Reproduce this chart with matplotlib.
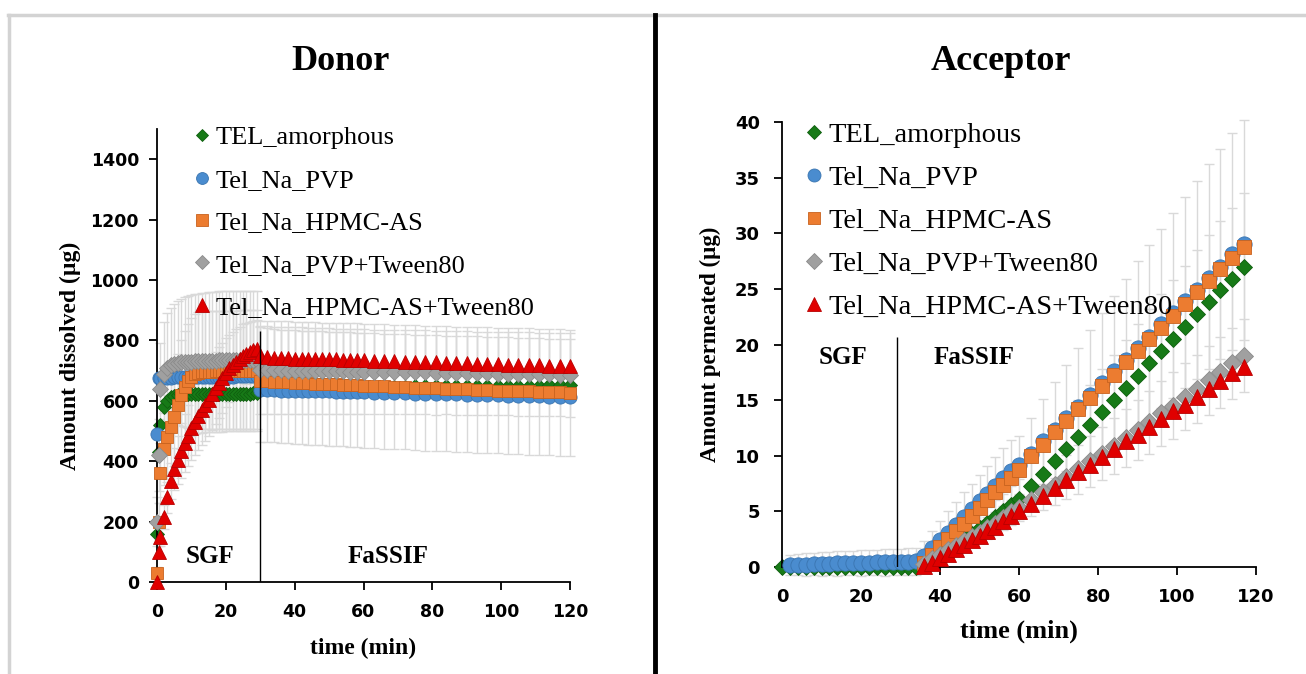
import numpy as np
import matplotlib
matplotlib.use("Agg")
import matplotlib.pyplot as plt
from matplotlib.lines import Line2D

nan = np.nan

labels = ["TEL_amorphous", "Tel_Na_PVP", "Tel_Na_HPMC-AS",
          "Tel_Na_PVP+Tween80", "Tel_Na_HPMC-AS+Tween80"]
colors = ["#177a17", "#4a8ccf", "#ec7c30", "#a0a0a0", "#e00000"]
edges = ["#0f5e0f", "#3a75b0", "#c8621e", "#8a8a8a", "#b80000"]
markers = ["D", "o", "s", "D", "^"]

# ---- Donor (amount dissolved, ug) ----
t_donor = [0, 0.5, 1, 2, 3, 4, 5, 6, 7, 8, 9, 10, 11, 12, 13, 14, 15, 16, 17, 18,
           19, 20, 21, 22, 23, 24, 25, 26, 27, 28, 29,
           30, 32, 34, 36, 38, 40, 42, 44, 46, 48, 50, 52, 54, 56, 58,
           60, 63, 66, 69, 72, 75, 78, 81, 84, 87, 90, 93, 96, 99, 102, 105, 108,
           111, 114, 117, 120]

donor_green = [160, 430, 520, 580, 600, 612, 617, 620, 621, 622, 622, 623, 622, 623,
               622, 623, 623, 622, 623, 624, 623, 623, 624, 623, 624, 624, 623, 624,
               624, 625, 625,
               640, 641, 641, 642, 642, 643, 643, 643, 644, 644, 644, 645, 645, 645, 646,
               646, 646, 647, 647, 647, 648, 648, 648, 648, 649, 649, 649, 649, 650, 650,
               650, 650, 650, 651, 651, 651]
donor_blue = [490, 676, 676, 677, 677, 677, 678, 678, 678, 678, 678, 679, 679, 679,
              679, 679, 679, 680, 680, 680, 680, 680, 680, 680, 681, 681, 681, 681,
              681, 681, 681,
              636, 635, 635, 634, 634, 633, 633, 632, 632, 631, 631, 630, 630, 629, 629,
              628, 627, 627, 626, 625, 624, 624, 623, 622, 621, 620, 620, 619, 618, 617,
              616, 615, 615, 614, 613, 612]
donor_orange = [30, 200, 360, 440, 480, 513, 545, 585, 620, 645, 665, 680, 688, 693,
                695, 696, 697, 697, 698, 698, 698, 699, 699, 699, 699, 700, 700, 700,
                700, 700, 700,
                665, 664, 663, 662, 661, 660, 659, 658, 657, 656, 655, 654, 653, 652, 651,
                650, 649, 648, 646, 645, 644, 642, 641, 640, 639, 638, 636, 635, 634, 633,
                632, 631, 630, 629, 628, 626]
donor_gray = [200, 420, 640, 690, 710, 718, 722, 725, 727, 728, 729, 730, 731, 731,
              732, 732, 733, 733, 733, 734, 734, 734, 735, 735, 735, 735, 736, 736,
              736, 736, 736,
              702, 702, 701, 701, 700, 700, 700, 699, 699, 699, 698, 698, 698, 697, 697,
              697, 696, 696, 695, 695, 694, 694, 693, 693, 692, 692, 691, 691, 690, 690,
              689, 689, 688, 688, 687, 686]
donor_red = [0, 100, 150, 215, 280, 335, 375, 405, 435, 460, 485, 510, 530, 550,
             568, 585, 602, 622, 642, 660, 677, 693, 707, 719, 730, 740, 749, 756,
             762, 767, 770,
             748, 745, 743, 742, 741, 740, 739, 739, 738, 738, 737, 737, 736, 736, 735,
             734, 733, 732, 731, 730, 729, 728, 727, 726, 725, 724, 723, 722, 721, 720,
             719, 718, 717, 716, 715, 714]

donor_orange_err = [20, 60, 100, 120, 140, 150, 160, 170, 180, 185, 190, 195, 198, 200,
                    200, 200, 200, 200, 200, 200, 200, 200, 200, 200, 200, 200, 200, 200,
                    200, 200, 200,
                    200, 200, 201, 201, 202, 202, 202, 203, 203, 203, 204, 204, 204, 205, 205,
                    205, 205, 206, 206, 206, 206, 207, 207, 207, 207, 208, 208, 208, 208, 209,
                    209, 209, 209, 210, 210, 210]
donor_gray_err = [80, 120, 150, 170, 180, 190, 200, 205, 210, 215, 218, 220, 222, 224,
                  225, 226, 226, 227, 227, 228, 228, 228, 228, 228, 228, 228, 228, 228,
                  228, 228, 228,
                  145, 145, 144, 144, 144, 143, 143, 143, 142, 142, 142, 141, 141, 141, 140,
                  140, 140, 140, 139, 139, 139, 139, 139, 138, 138, 138, 138, 138, 138, 138,
                  138, 138, 138, 138, 138, 138]
donor_red_err = [0, 20, 30, 40, 50, 60, 70, 80, 90, 95, 100, 105, 110, 112,
                 115, 118, 120, 120, 120, 118, 116, 114, 112, 110, 108, 106, 104, 102,
                 100, 98, 96,
                 95, 95, 94, 94, 94, 93, 93, 93, 92, 92, 92, 91, 91, 91, 90,
                 90, 90, 90, 90, 90, 90, 90, 90, 90, 90, 90, 90, 90, 90, 90,
                 90, 90, 90, 90, 90, 90]

# ---- Acceptor (amount permeated, ug) ----
t_acc = [0, 2, 4, 6, 8, 10, 12, 14, 16, 18, 20, 22, 24, 26, 28, 30, 32, 34,
         36, 38, 40, 42, 44, 46, 48, 50, 52, 54, 56, 58,
         60, 63, 66, 69, 72, 75, 78, 81, 84, 87, 90, 93, 96, 99, 102, 105, 108,
         111, 114, 117]

acc_green = [0.0, 0.0, 0.0, 0.0, 0.0, 0.0, 0.0, 0.0, 0.0, 0.0, 0.0, 0.0, 0.0, 0.0,
             0.0, 0.0, 0.0, 0.0,
             0.2, 0.6, 1.0, 1.5, 2.0, 2.5, 3.0, 3.5, 4.0, 4.5, 5.0, 5.6,
             6.1, 7.3, 8.4, 9.5, 10.6, 11.7, 12.8, 13.9, 15.0, 16.1, 17.2, 18.3, 19.4,
             20.5, 21.6, 22.7, 23.8, 24.9, 25.9, 27.0]
acc_blue = [nan, 0.15, 0.2, 0.22, 0.25, 0.28, 0.3, 0.32, 0.34, 0.36, 0.38, 0.4, 0.42,
            0.43, 0.45, 0.46, 0.48, 0.5,
            1.0, 1.7, 2.4, 3.1, 3.8, 4.5, 5.2, 5.9, 6.6, 7.3, 8.0, 8.6,
            9.2, 10.2, 11.3, 12.3, 13.4, 14.4, 15.5, 16.5, 17.6, 18.6, 19.7, 20.7, 21.8,
            22.8, 23.9, 24.9, 26.0, 27.0, 28.1, 29.0]
acc_orange = [nan, nan, nan, nan, nan, nan, nan, nan, nan, nan, nan, nan, nan, nan,
              nan, nan, nan, nan,
              0.4, 1.1, 1.8, 2.5, 3.2, 3.9, 4.6, 5.3, 6.0, 6.7, 7.4, 8.0,
              8.7, 10.0, 11.0, 12.1, 13.1, 14.2, 15.2, 16.3, 17.3, 18.4, 19.4, 20.5, 21.5,
              22.6, 23.6, 24.7, 25.7, 26.8, 27.8, 28.8]
acc_gray = [nan, nan, nan, nan, nan, nan, nan, nan, nan, nan, nan, nan, nan, nan,
            nan, nan, nan, nan,
            0.3, 0.7, 1.1, 1.5, 1.9, 2.3, 2.7, 3.1, 3.5, 3.9, 4.4, 4.9,
            5.3, 6.0, 6.7, 7.4, 8.1, 8.8, 9.5, 10.2, 10.9, 11.6, 12.3, 13.0, 13.8,
            14.5, 15.3, 16.0, 16.8, 17.5, 18.3, 19.0]
acc_red = [nan, nan, nan, nan, nan, nan, nan, nan, nan, nan, nan, nan, nan, nan,
           nan, nan, nan, nan,
           0.1, 0.4, 0.8, 1.2, 1.6, 2.0, 2.4, 2.8, 3.2, 3.6, 4.1, 4.6,
           5.0, 5.7, 6.4, 7.1, 7.8, 8.5, 9.2, 9.9, 10.6, 11.3, 11.9, 12.6, 13.3,
           14.0, 14.6, 15.3, 16.0, 16.7, 17.4, 18.0]

acc_blue_err = [nan, 0.9, 0.95, 1.0, 1.0, 1.05, 1.05, 1.1, 1.1, 1.1, 1.15, 1.15, 1.15,
                1.2, 1.2, 1.2, 1.2, 1.2,
                1.3, 1.5, 1.7, 1.9, 2.0, 2.2, 2.3, 2.4, 2.5, 2.6, 2.7, 2.8,
                2.6, 3.2, 3.8, 4.3, 4.8, 5.3, 5.8, 6.3, 6.8, 7.3, 7.8, 8.2, 8.6,
                9.0, 9.4, 9.8, 10.2, 10.6, 10.9, 11.2]
acc_green_err = [nan, nan, nan, nan, nan, nan, nan, nan, nan, nan, nan, nan, nan, nan,
                 nan, nan, nan, nan,
                 0.3, 0.5, 0.7, 0.9, 1.0, 1.1, 1.2, 1.3, 1.4, 1.5, 1.6, 1.7,
                 1.8, 2.1, 2.4, 2.7, 3.0, 3.3, 3.6, 3.9, 4.1, 4.3, 4.6, 4.9, 5.1,
                 5.3, 5.5, 5.8, 6.0, 6.2, 6.4, 6.6]
acc_gray_err = [nan, nan, nan, nan, nan, nan, nan, nan, nan, nan, nan, nan, nan, nan,
                nan, nan, nan, nan,
                0.2, 0.3, 0.4, 0.5, 0.6, 0.7, 0.8, 0.9, 1.0, 1.0, 1.1, 1.1,
                1.2, 1.4, 1.6, 1.8, 2.0, 2.2, 2.3, 2.4, 2.5, 2.6, 2.7, 2.8, 2.9,
                3.0, 3.0, 3.1, 3.1, 3.2, 3.2, 3.3]

serif = "Liberation Serif"
sans = "DejaVu Sans"


def draw_panel(ax, t, series, errs, sizes, ymax, yticks, ylabel, fs):
    for y, e in errs:
        ax.errorbar(t, y, yerr=e, fmt="none", ecolor="#d9d9d9", elinewidth=1,
                    capsize=3.5, capthick=1, zorder=1, clip_on=False)
    handles = []
    for i, y in enumerate(series):
        ln, = ax.plot(t, y, linestyle="none", marker=markers[i], ms=sizes[i],
                      color=colors[i], mec=edges[i], mew=0.6, zorder=2 + i,
                      clip_on=False, label=labels[i])
        handles.append(ln)
    ax.set_xlim(0, 120)
    ax.set_ylim(0, ymax)
    ax.set_xticks([0, 20, 40, 60, 80, 100, 120])
    ax.set_yticks(yticks)
    for s in ["top", "right"]:
        ax.spines[s].set_visible(False)
    for s in ["left", "bottom"]:
        ax.spines[s].set_linewidth(1.3)
    ax.tick_params(length=6, width=1.3, labelsize=fs["tick"])
    ax.tick_params(axis="x", pad=fs["xtpad"])
    ax.tick_params(axis="y", pad=fs["ytpad"])
    for lbl in ax.get_xticklabels() + ax.get_yticklabels():
        lbl.set_fontfamily(sans)
        lbl.set_fontweight("bold")
    ax.set_xlabel("time (min)", fontfamily=serif, fontweight="bold",
                  fontsize=fs["xlab"], labelpad=fs["xpad"])
    ax.set_ylabel(ylabel, fontfamily=serif, fontweight="bold",
                  fontsize=fs["ylab"], labelpad=fs["ypad"])
    return handles


fig = plt.figure(figsize=(13.06, 6.74), dpi=100)

# Donor panel
ax1 = fig.add_axes([157 / 1306, 92 / 674, 413 / 1306, 453 / 674])
h1 = draw_panel(ax1, t_donor,
                [donor_green, donor_blue, donor_orange, donor_gray, donor_red],
                [(donor_orange, donor_orange_err), (donor_gray, donor_gray_err),
                 (donor_red, donor_red_err)],
                [7, 9.5, 9, 8, 10.5], 1500, range(0, 1401, 200),
                "Amount dissolved (\u00b5g)",
                dict(tick=12.5, xtpad=9, ytpad=7, xlab=17, xpad=12, ylab=17, ypad=7))
ax1.vlines(30, 0, 830, color="black", lw=1, zorder=10)
ax1.text(15.5, 85, "SGF", fontfamily=serif, fontweight="bold", fontsize=18,
         ha="center", va="center")
ax1.text(67, 85, "FaSSIF", fontfamily=serif, fontweight="bold", fontsize=18,
         ha="center", va="center")
ax1.legend(handles=h1, loc="upper left", bbox_to_anchor=(0.093, 1.007),
           frameon=False, prop={"family": serif, "size": 19}, handlelength=0.5,
           handletextpad=0.25, labelspacing=0.72, borderpad=0, borderaxespad=0,
           numpoints=1, markerscale=0.9)

# Acceptor panel
ax2 = fig.add_axes([782 / 1306, 107 / 674, 474 / 1306, 445 / 674])
h2 = draw_panel(ax2, t_acc,
                [acc_green, acc_blue, acc_orange, acc_gray, acc_red],
                [(acc_blue, acc_blue_err), (acc_green, acc_green_err),
                 (acc_gray, acc_gray_err)],
                [8.5, 11, 10, 9, 11.5], 40, range(0, 41, 5),
                "Amount permeated (\u00b5g)",
                dict(tick=13, xtpad=9, ytpad=10, xlab=19, xpad=10, ylab=16.5, ypad=10))
ax2.vlines(29, 0, 20.7, color="black", lw=1, zorder=10)
ax2.text(15.5, 18.8, "SGF", fontfamily=serif, fontweight="bold", fontsize=18,
         ha="center", va="center")
ax2.text(48.5, 18.8, "FaSSIF", fontfamily=serif, fontweight="bold", fontsize=18,
         ha="center", va="center")
ax2.legend(handles=h2, loc="upper left", bbox_to_anchor=(0.052, 1.0),
           frameon=False, prop={"family": serif, "size": 20.5}, handlelength=0.5,
           handletextpad=0.25, labelspacing=0.6, borderpad=0, borderaxespad=0,
           numpoints=1, markerscale=0.85)

# titles
fig.text(340 / 1306, 1 - 62 / 674, "Donor", fontfamily=serif, fontweight="bold",
         fontsize=26, ha="center", va="center")
fig.text(1001 / 1306, 1 - 62 / 674, "Acceptor", fontfamily=serif,
         fontweight="bold", fontsize=26, ha="center", va="center")

# frame lines around the two panels
fig.add_artist(Line2D([8 / 1306, 1], [1 - 15 / 674] * 2, color="#d3d3d3", lw=2.5,
                      transform=fig.transFigure))
fig.add_artist(Line2D([9 / 1306] * 2, [0, 1 - 15 / 674], color="#d3d3d3", lw=2.5,
                      transform=fig.transFigure))
fig.add_artist(Line2D([655 / 1306] * 2, [0, 1 - 15 / 674], color="black", lw=3.5,
                      transform=fig.transFigure))

fig.savefig("out.png", dpi=100)
